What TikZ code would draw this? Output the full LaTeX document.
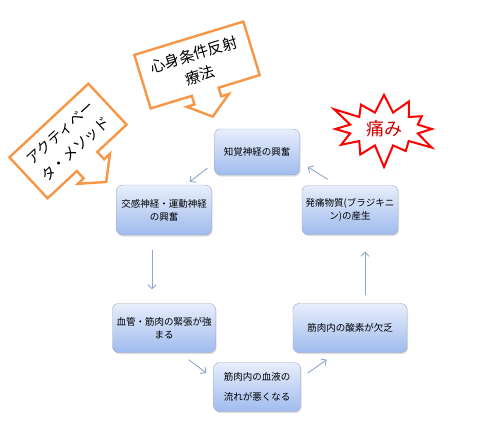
\documentclass[tikz,border=0pt]{standalone}
\usepackage{fontspec}
\setmainfont{Noto Sans CJK JP}
\usetikzlibrary{arrows.meta, shapes.symbols, shadows}
\definecolor{boxtop}{HTML}{E8EEFC}
\definecolor{boxbot}{HTML}{9FBBEE}
\definecolor{boxline}{HTML}{9CA7BB}
\definecolor{flowline}{HTML}{8DA7CB}
\definecolor{calloutorange}{HTML}{F79646}
\definecolor{painred}{HTML}{D00000}

\begin{document}
\begin{tikzpicture}[x=1pt, y=-1pt, >={Straight Barb[length=4pt,width=8pt]},
  stepbox/.style={draw=boxline, rounded corners=6pt, top color=boxtop, bottom color=boxbot,
    drop shadow={shadow xshift=1pt, shadow yshift=-1.5pt, opacity=0.25},
    align=center, inner sep=2pt, font=\fontsize{9.5}{13}\selectfont},
  cycle/.style={->, draw=flowline, line width=0.9pt},
  calloutline/.style={draw=calloutorange, line width=2.4pt, fill=white, line join=miter},
  callouttext/.style={align=center, inner sep=0pt}]
  \useasboundingbox (0,0) rectangle (478,421);
  % Cycle boxes
  \node[stepbox, minimum width=85pt, minimum height=46pt] (perc) at (257,152) {知覚神経の興奮};
  \node[stepbox, minimum width=95pt, minimum height=50pt] (symp) at (164,210) {交感神経・運動神経\\の興奮};
  \node[stepbox, minimum width=103pt, minimum height=49pt] (tens) at (164,328) {血管・筋肉の緊張が強\\まる};
  \node[stepbox, minimum width=87pt, minimum height=49pt, font=\fontsize{9.5}{20}\selectfont] (blood) at (257,387) {筋肉内の血液の\\流れが悪くなる};
  \node[stepbox, minimum width=114pt, minimum height=49pt] (oxy) at (350,328) {筋肉内の酸素が欠乏};
  \node[stepbox, minimum width=96pt, minimum height=49pt] (brady) at (350,210) {発痛物質(ブラジキニ\\ン)の産生};
  % Arrows
  \draw[cycle] ([shift={(-7,-7)}]perc.south west) -- ([shift={(-22,-3)}]symp.north east);
  \draw[cycle] ([shift={(-12,15)}]symp.south) -- ([shift={(-12,-14)}]tens.north);
  \draw[cycle] ([shift={(-27,7)}]tens.south east) -- ([shift={(-7,-14)}]blood.west);
  \draw[cycle] ([shift={(7,-14)}]blood.east) -- ([shift={(34,7)}]oxy.south west);
  \draw[cycle] ([shift={(15,-8)}]oxy.north) -- ([shift={(15,17)}]brady.south);
  \draw[cycle] ([shift={(26,-6)}]brady.north west) -- ([shift={(8,15)}]perc.east);
  % Callout: reflex therapy
  \begin{scope}[shift={(197,65)}, rotate=17]
    \draw[calloutline] (-57,-28) -- (57,-28) -- (57,28) -- (14,28) -- (14,37) -- (22,37)
      -- (0,54) -- (-22,37) -- (-14,37) -- (-14,28) -- (-57,28) -- cycle;
    \node[callouttext, rotate=17, font=\fontsize{15}{22}\selectfont] (reflex) at (0,0) {心身条件反射\\療法};
  \end{scope}
  % Callout: activator method
  \begin{scope}[shift={(68,141)}, rotate=43]
    \draw[calloutline] (-54,-28) -- (54,-28) -- (54,28) -- (14,28) -- (14,38) -- (22,38)
      -- (0,56) -- (-22,38) -- (-14,38) -- (-14,28) -- (-54,28) -- cycle;
    \node[callouttext, rotate=43, font=\fontsize{14.5}{22}\selectfont] (activ) at (0,0) {アクティベー\\タ・メソッド};
  \end{scope}
  % Pain burst
  \node[starburst, draw=red, line width=2pt, fill=white, starburst points=12,
    starburst point height=24pt, minimum width=118pt, minimum height=82pt,
    text=painred, font=\fontsize{18}{20}\selectfont] (pain) at (384,129) {痛み};
\end{tikzpicture}
\end{document}
